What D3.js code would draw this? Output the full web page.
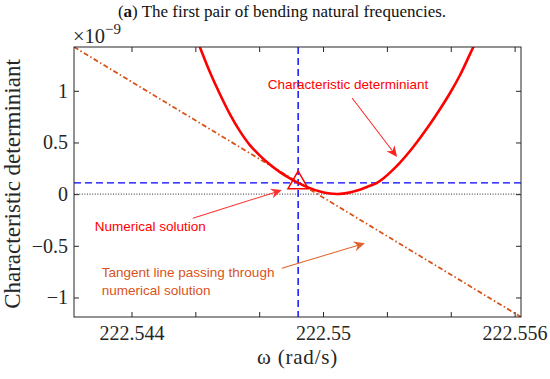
<!DOCTYPE html>
<html>
<head>
<meta charset="utf-8">
<script src="https://cdn.jsdelivr.net/npm/d3@7"></script>
<style>
  body { margin: 0; background: #fff; }
  text { fill: #262626; }
</style>
</head>
<body>
<svg width="550" height="379"></svg>
<script>
// characteristic determinant (x1e-9) against omega (rad/s)
var curveOmega = [222.545984, 222.546141, 222.546455, 222.546768, 222.547082, 222.547395,
                  222.547708, 222.548022, 222.548335, 222.548649, 222.548962, 222.54922,
                  222.549589, 222.549903, 222.550216, 222.550467, 222.550781, 222.551094,
                  222.551408, 222.551690, 222.551940, 222.552097, 222.552411, 222.552724,
                  222.553038, 222.553351, 222.553665, 222.553978, 222.554292, 222.554605,
                  222.554856];
var curveDet   = [1.55, 1.424, 1.182, 0.969, 0.775, 0.610,
                  0.475, 0.373, 0.286, 0.213, 0.153, 0.1095,
                  0.058, 0.025, 0.006, 0.002, 0.012, 0.037,
                  0.074, 0.1095, 0.165, 0.208, 0.305, 0.417,
                  0.543, 0.678, 0.824, 0.979, 1.153, 1.357,
                  1.521];

// numerical solution and its tangent line
var solution = { omega: 222.54922, det: 0.1095 };
var tangentOmega = [222.5422, 222.5562];
var tangentDet   = [1.424, -1.189];

var xDomain = [222.5422, 222.5562];
var yDomain = [-1.189, 1.424];
var xTicks = [222.544, 222.546, 222.548, 222.55, 222.552, 222.554, 222.556];
var xTickLabels = {"222.544": "222.544", "222.55": "222.55", "222.556": "222.556"};
var yTicks = [-1, -0.5, 0, 0.5, 1];

// annotations (data coordinates)
var notes = [
  { lines: ["Characteristic determiniant"], omega: 222.54827, det: 1.017, color: "#ff0000" },
  { lines: ["Numerical solution"], omega: 222.54285, det: -0.359, color: "#ff0000" },
  { lines: ["Tangent line passing through", "numerical solution"], omega: 222.54307, det: -0.804, color: "#d95319" }
];
var arrows = [
  { from: [222.55091, 0.930], to: [222.55232, 0.359], color: "#ff2020" },
  { from: [222.54592, -0.233], to: [222.54871, 0.039], color: "#ff3030" },
  { from: [222.54871, -0.717], to: [222.55131, -0.475], color: "#e0622a" }
];

var svg = d3.select("svg");
var margin = { left: 74, top: 47, right: 29, bottom: 62 };
var width = +svg.attr("width") - margin.left - margin.right,
    height = +svg.attr("height") - margin.top - margin.bottom;

var x = d3.scaleLinear().domain(xDomain).range([0, width]);
var y = d3.scaleLinear().domain(yDomain).range([height, 0]);

var serif = "'Liberation Serif', 'Times New Roman', serif";

var g = svg.append("g").attr("transform", "translate(" + margin.left + "," + margin.top + ")");

svg.append("defs").append("clipPath").attr("id", "plot")
  .append("rect").attr("width", width).attr("height", height);

var plot = g.append("g").attr("clip-path", "url(#plot)");

// zero line
plot.append("line")
  .attr("x1", 0).attr("x2", width)
  .attr("y1", y(0)).attr("y2", y(0))
  .attr("stroke", "#555").attr("stroke-width", 1.1)
  .attr("stroke-dasharray", "1,1.6");

// blue guide lines through the solution
plot.append("line")
  .attr("x1", x(solution.omega)).attr("x2", x(solution.omega))
  .attr("y1", 0).attr("y2", height)
  .attr("stroke", "#0000ff").attr("stroke-width", 1.4)
  .attr("stroke-dasharray", "7,4");
plot.append("line")
  .attr("x1", 0).attr("x2", width)
  .attr("y1", y(solution.det)).attr("y2", y(solution.det))
  .attr("stroke", "#0000ff").attr("stroke-width", 1.4)
  .attr("stroke-dasharray", "7,4");

// tangent line
var line = d3.line().x(d => x(d[0])).y(d => y(d[1]));
plot.append("path")
  .attr("d", line(d3.zip(tangentOmega, tangentDet)))
  .attr("fill", "none")
  .attr("stroke", "#d95319").attr("stroke-width", 1.8)
  .attr("stroke-dasharray", "5,2.5,1.5,2.5");

// determinant curve
plot.append("path")
  .attr("d", line.curve(d3.curveCatmullRom)(d3.zip(curveOmega, curveDet)))
  .attr("fill", "none")
  .attr("stroke", "#ff0000").attr("stroke-width", 2.6);

// solution marker
g.append("path")
  .attr("d", d3.symbol(d3.symbolTriangle, 179)())
  .attr("transform", "translate(" + x(solution.omega) + "," + y(solution.det) + ")")
  .attr("fill", "none").attr("stroke", "#ff0000").attr("stroke-width", 1.5);

// axes: ticks inside on all four sides
function styleAxis(sel) {
  sel.select(".domain").remove();
  sel.selectAll(".tick line").attr("stroke", "#262626");
  sel.selectAll(".tick text")
    .style("font-family", serif)
    .style("font-size", "20px")
    .attr("fill", "#262626");
}
g.append("g").attr("transform", "translate(0," + height + ")")
  .call(d3.axisBottom(x).tickValues(xTicks).tickSizeInner(-5).tickSizeOuter(0).tickPadding(9)
    .tickFormat(d => xTickLabels[String(d)] || ""))
  .call(styleAxis);
g.append("g")
  .call(d3.axisTop(x).tickValues(xTicks).tickSizeInner(-5).tickSizeOuter(0).tickFormat(""))
  .call(styleAxis);
g.append("g")
  .call(d3.axisLeft(y).tickValues(yTicks).tickSizeInner(-5).tickSizeOuter(0).tickPadding(6)
    .tickFormat(d3.format("")))
  .call(styleAxis);
g.append("g").attr("transform", "translate(" + width + ",0)")
  .call(d3.axisRight(y).tickValues(yTicks).tickSizeInner(-5).tickSizeOuter(0).tickFormat(""))
  .call(styleAxis);

g.append("rect")
  .attr("width", width).attr("height", height)
  .attr("fill", "none").attr("stroke", "#262626").attr("stroke-width", 1);

// annotations
notes.forEach(n => {
  var t = g.append("text")
    .attr("x", x(n.omega)).attr("y", y(n.det))
    .style("font-family", "'Liberation Sans', Arial, sans-serif")
    .style("font-size", "13.5px")
    .style("fill", n.color);
  n.lines.forEach((s, i) => {
    t.append("tspan").attr("x", x(n.omega)).attr("dy", i ? 17.5 : 0).text(s);
  });
});

arrows.forEach(a => {
  var x0 = x(a.from[0]), y0 = y(a.from[1]), x1 = x(a.to[0]), y1 = y(a.to[1]);
  var ang = Math.atan2(y1 - y0, x1 - x0) * 180 / Math.PI;
  var len = Math.hypot(x1 - x0, y1 - y0);
  var ag = g.append("g")
    .attr("transform", "translate(" + x0 + "," + y0 + ") rotate(" + ang + ")");
  ag.append("line").attr("x1", 0).attr("y1", 0).attr("x2", len - 6).attr("y2", 0)
    .attr("stroke", a.color).attr("stroke-width", 1);
  ag.append("path")
    .attr("d", "M" + len + ",0L" + (len - 11) + ",-5L" + (len - 7.5) + ",0L" + (len - 11) + ",5Z")
    .attr("fill", a.color);
});

// exponent label
var ex = g.append("text").attr("x", -1).attr("y", -4)
  .style("font-family", serif)
  .style("font-size", "20.5px");
ex.append("tspan").text("\u00d710");
ex.append("tspan").attr("dy", -9).style("font-size", "15px").text("\u22129");

// axis titles
svg.append("text")
  .attr("x", margin.left + x(222.5492)).attr("y", 364)
  .attr("text-anchor", "middle")
  .style("font-family", serif)
  .style("font-size", "21px")
  .style("letter-spacing", "0.8px")
  .text("\u03c9 (rad/s)");

svg.append("text")
  .attr("transform", "translate(20," + (margin.top + height / 2 + 2) + ") rotate(-90)")
  .attr("text-anchor", "middle")
  .style("font-family", serif)
  .style("font-size", "23px")
  .text("Characteristic determiniant");

// title
var title = svg.append("text")
  .attr("x", 282).attr("y", 17)
  .attr("text-anchor", "middle")
  .style("font-family", serif)
  .style("font-size", "17px")
  .style("fill", "#111");
title.append("tspan").text("(");
title.append("tspan").style("font-weight", "bold").text("a");
title.append("tspan").text(") The first pair of bending natural frequencies.");
</script>
</body>
</html>
